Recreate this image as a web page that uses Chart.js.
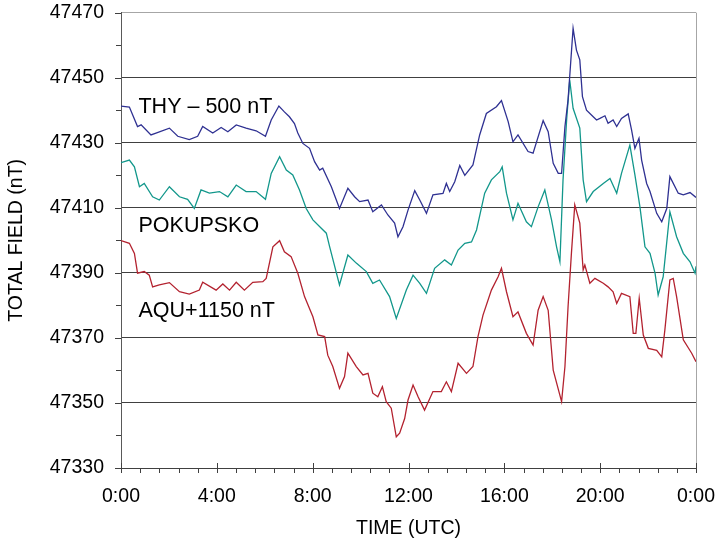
<!DOCTYPE html>
<html lang="en">
<head>
    <meta charset="UTF-8">
    <title>Total field - three stations</title>
    <style>
        body {
            margin: 0;
            background-color: #ffffff;
        }
        canvas {
            display: block;
        }
    </style>
</head>
<body>
    <canvas id="fieldChart" width="719" height="543"></canvas>

    <script src="https://cdn.jsdelivr.net/npm/chart.js"></script>
    <script>
        // Time in hours (UTC) and total field (nT)
        const thyTimes = [0.00, 0.35, 0.69, 0.84, 1.25, 1.46, 2.02, 2.37, 2.85, 3.20, 3.41, 3.83, 4.18, 4.46, 4.81, 5.22, 5.64, 6.03, 6.27, 6.59,
            6.82, 7.03, 7.24, 7.38, 7.59, 7.87, 8.08, 8.29, 8.42, 8.78, 9.12, 9.47, 9.75, 9.96, 10.31, 10.51, 10.87, 11.14, 11.42, 11.56,
            11.77, 11.98, 12.26, 12.47, 12.75, 13.02, 13.44, 13.58, 13.72, 13.93, 14.14, 14.35, 14.69, 14.97, 15.25, 15.67, 15.88, 16.16, 16.36, 16.57,
            16.99, 17.20, 17.62, 17.83, 18.04, 18.25, 18.39, 18.53, 18.66, 18.87, 19.01, 19.15, 19.26, 19.43, 19.71, 19.85, 19.99, 20.20, 20.33, 20.54,
            20.69, 20.89, 21.17, 21.31, 21.45, 21.62, 21.73, 21.94, 22.08, 22.36, 22.57, 22.78, 22.91, 23.26, 23.47, 23.75, 24.00];
        const thyValues = [47441.3, 47441.0, 47435.0, 47435.5, 47432.4, 47433.0, 47434.5, 47432.0, 47431.0, 47432.0, 47435.0, 47433.0, 47434.7, 47433.4, 47435.5, 47434.5, 47433.7, 47432.0, 47437.0, 47441.3,
            47439.5, 47438.0, 47435.9, 47433.0, 47429.8, 47428.3, 47424.2, 47421.6, 47422.2, 47416.5, 47409.8, 47416.0, 47413.4, 47411.9, 47412.4, 47408.8, 47410.9, 47407.8, 47405.3, 47401.1,
            47404.2, 47409.3, 47415.3, 47412.4, 47408.3, 47414.0, 47414.4, 47417.5, 47415.0, 47418.0, 47423.0, 47420.0, 47423.2, 47432.4, 47439.0, 47441.1, 47443.0, 47436.5, 47430.3, 47432.4,
            47427.3, 47426.8, 47436.8, 47433.4, 47423.7, 47420.6, 47420.6, 47435.0, 47443.2, 47465.2, 47458.5, 47455.5, 47444.2, 47440.0, 47438.0, 47437.0, 47437.5, 47438.3, 47436.0, 47437.0,
            47435.0, 47437.5, 47438.9, 47434.0, 47428.3, 47431.4, 47424.7, 47417.5, 47415.0, 47408.3, 47405.7, 47409.8, 47419.6, 47414.5, 47414.0, 47414.7, 47413.2];

        const pokTimes = [0.00, 0.35, 0.56, 0.77, 0.97, 1.32, 1.60, 2.02, 2.44, 2.78, 3.06, 3.34, 3.69, 4.11, 4.46, 4.81, 5.22, 5.64, 6.03, 6.27,
            6.62, 6.90, 7.17, 7.45, 7.73, 8.01, 8.36, 8.57, 8.71, 9.12, 9.47, 9.82, 10.24, 10.51, 10.79, 11.21, 11.49, 11.91, 12.19, 12.47,
            12.75, 13.09, 13.51, 13.79, 14.07, 14.35, 14.63, 14.84, 15.18, 15.46, 15.81, 15.91, 16.09, 16.36, 16.57, 16.92, 17.13, 17.41, 17.69, 17.97,
            18.18, 18.32, 18.45, 18.60, 18.73, 18.87, 19.15, 19.29, 19.43, 19.71, 20.13, 20.41, 20.69, 20.89, 21.24, 21.45, 21.66, 21.87, 22.08, 22.29,
            22.42, 22.63, 22.91, 23.19, 23.47, 23.75, 23.96, 24.00];
        const pokValues = [47423.9, 47424.7, 47422.6, 47416.5, 47417.5, 47413.4, 47412.4, 47416.5, 47413.4, 47412.6, 47409.8, 47415.5, 47414.5, 47415.0, 47413.4, 47417.0, 47415.0, 47415.0, 47412.6, 47420.6,
            47425.7, 47421.6, 47420.1, 47415.5, 47409.8, 47406.3, 47403.7, 47402.2, 47398.0, 47386.3, 47395.5, 47393.0, 47390.4, 47386.8, 47387.8, 47382.7, 47376.0, 47384.7, 47389.3, 47386.8,
            47383.7, 47391.4, 47394.0, 47392.4, 47397.0, 47399.1, 47399.5, 47403.2, 47414.5, 47418.6, 47421.1, 47422.6, 47414.5, 47406.3, 47411.4, 47405.7, 47404.2, 47410.3, 47415.5, 47406.3,
            47398.0, 47393.4, 47418.6, 47437.0, 47449.3, 47440.6, 47434.5, 47418.6, 47411.9, 47415.0, 47417.5, 47419.0, 47414.5, 47420.6, 47429.3, 47420.1, 47410.3, 47398.0, 47396.0, 47389.9,
            47383.2, 47388.8, 47408.8, 47401.1, 47396.0, 47393.4, 47389.9, 47392.0];

        const aquTimes = [0.00, 0.35, 0.56, 0.69, 0.97, 1.18, 1.32, 1.60, 2.02, 2.44, 2.85, 3.27, 3.41, 3.97, 4.25, 4.53, 4.81, 5.15, 5.50, 5.92,
            6.06, 6.34, 6.62, 6.82, 7.10, 7.38, 7.66, 8.01, 8.22, 8.50, 8.63, 8.84, 9.12, 9.33, 9.47, 9.82, 10.10, 10.31, 10.51, 10.72,
            10.91, 11.07, 11.28, 11.49, 11.63, 11.84, 11.98, 12.19, 12.40, 12.67, 13.02, 13.37, 13.58, 13.79, 14.07, 14.42, 14.69, 14.90, 15.11, 15.46,
            15.74, 15.88, 16.09, 16.36, 16.57, 16.92, 17.20, 17.41, 17.62, 17.83, 18.04, 18.39, 18.53, 18.66, 18.80, 18.94, 19.15, 19.29, 19.36, 19.57,
            19.78, 20.13, 20.33, 20.54, 20.69, 20.89, 21.24, 21.38, 21.49, 21.63, 21.80, 22.01, 22.36, 22.57, 22.70, 22.91, 23.05, 23.19, 23.47, 23.82,
            24.00];
        const aquValues = [47399.9, 47399.1, 47396.0, 47389.9, 47390.4, 47389.3, 47385.7, 47386.3, 47387.0, 47384.2, 47383.5, 47384.7, 47387.1, 47384.7, 47386.6, 47384.7, 47387.1, 47384.7, 47387.1, 47387.3,
            47388.3, 47398.0, 47399.9, 47396.5, 47395.0, 47389.9, 47382.7, 47376.5, 47370.9, 47370.4, 47364.7, 47361.2, 47354.5, 47358.1, 47365.3, 47361.2, 47358.6, 47359.1, 47353.0, 47351.9,
            47355.0, 47350.4, 47348.4, 47339.6, 47340.7, 47345.2, 47350.9, 47355.5, 47351.9, 47347.8, 47353.5, 47353.5, 47356.5, 47353.5, 47362.2, 47359.1, 47361.2, 47370.4, 47377.0, 47384.7,
            47388.8, 47391.4, 47384.2, 47376.5, 47378.0, 47371.4, 47367.8, 47378.5, 47382.7, 47378.5, 47360.1, 47350.4, 47361.2, 47379.6, 47396.0, 47410.9, 47405.3, 47390.9, 47392.4, 47386.8,
            47388.3, 47386.8, 47385.7, 47384.2, 47380.6, 47383.7, 47382.7, 47371.4, 47371.4, 47382.2, 47370.9, 47366.8, 47366.2, 47364.2, 47372.4, 47387.8, 47388.3, 47382.7, 47369.4, 47365.3,
            47362.7];

        // Inline series names, anchored in data coordinates (hours, nT)
        const seriesNames = ['THY \u2013 500 nT', 'POKUPSKO', 'AQU+1150 nT'];
        const nameTimes = [0.73, 0.73, 0.73];
        const nameValues = [47439.2, 47402.7, 47376.5];

        const Y_MIN = 47330, Y_MAX = 47470, Y_STEP = 20;
        const X_MIN = 0, X_MAX = 24, X_STEP = 4, X_MINOR = 0.8;

        const FONT = '"Liberation Sans", Arial, sans-serif';

        function toPoints(times, values) {
            return times.map((t, i) => ({ x: t, y: values[i] }));
        }

        // Draws axis tick marks, the light right frame and the series names
        const framePlugin = {
            id: 'framePlugin',
            afterDraw(chart) {
                const { ctx, chartArea: area, scales: { x, y } } = chart;
                ctx.save();

                // right frame line
                ctx.strokeStyle = '#a6a6a6';
                ctx.lineWidth = 1;
                ctx.beginPath();
                ctx.moveTo(Math.round(area.right) + 0.5, area.top);
                ctx.lineTo(Math.round(area.right) + 0.5, area.bottom);
                ctx.stroke();

                ctx.strokeStyle = '#404040';
                ctx.beginPath();
                // y ticks, major and minor, pointing outward
                for (let v = Y_MIN; v <= Y_MAX; v += Y_STEP / 2) {
                    const py = Math.round(y.getPixelForValue(v)) + 0.5;
                    const len = (v - Y_MIN) % Y_STEP === 0 ? 6 : 5;
                    ctx.moveTo(area.left - len, py);
                    ctx.lineTo(area.left, py);
                }
                // x ticks: major cross the axis, minor hang below
                for (let i = 0; i <= Math.round((X_MAX - X_MIN) / X_MINOR); i++) {
                    const px = Math.round(x.getPixelForValue(X_MIN + i * X_MINOR)) + 0.5;
                    ctx.moveTo(px, area.bottom);
                    ctx.lineTo(px, area.bottom + 5);
                }
                for (let h = X_MIN; h <= X_MAX; h += X_STEP) {
                    const px = Math.round(x.getPixelForValue(h)) + 0.5;
                    ctx.moveTo(px, area.bottom - 5);
                    ctx.lineTo(px, area.bottom + 5);
                }
                ctx.stroke();

                // series names
                ctx.fillStyle = '#000000';
                ctx.font = '21.5px ' + FONT;
                ctx.textBaseline = 'alphabetic';
                ctx.textAlign = 'left';
                seriesNames.forEach((name, i) => {
                    ctx.fillText(name, x.getPixelForValue(nameTimes[i]), y.getPixelForValue(nameValues[i]));
                });
                ctx.restore();
            }
        };

        new Chart(document.getElementById('fieldChart'), {
            type: 'line',
            data: {
                datasets: [
                    { label: 'THY', data: toPoints(thyTimes, thyValues), borderColor: '#2f3192' },
                    { label: 'POKUPSKO', data: toPoints(pokTimes, pokValues), borderColor: '#12978b' },
                    { label: 'AQU', data: toPoints(aquTimes, aquValues), borderColor: '#b3222f' }
                ]
            },
            options: {
                responsive: false,
                animation: false,
                parsing: false,
                elements: {
                    point: { radius: 0, hoverRadius: 0 },
                    line: { borderWidth: 1.3, tension: 0 }
                },
                layout: {
                    autoPadding: false,
                    padding: { left: 0, right: 23, top: 12.7, bottom: 0 }
                },
                plugins: {
                    legend: { display: false },
                    tooltip: { enabled: false }
                },
                scales: {
                    x: {
                        type: 'linear',
                        min: X_MIN,
                        max: X_MAX,
                        // fixed axis band; label overhang must not shrink the plot
                        afterFit: scale => {
                            scale.height = 75;
                            scale.paddingLeft = 0;
                            scale.paddingRight = 0;
                        },
                        ticks: {
                            stepSize: X_STEP,
                            padding: 17,
                            maxRotation: 0,
                            color: '#000000',
                            font: { family: FONT, size: 19.5 },
                            callback: v => (v % 24) + ':00'
                        },
                        grid: { drawOnChartArea: false, drawTicks: false },
                        border: { color: '#404040', width: 1 },
                        title: {
                            display: true,
                            text: 'TIME (UTC)',
                            color: '#000000',
                            font: { family: FONT, size: 19.5 },
                            padding: { top: 0, bottom: 3 }
                        }
                    },
                    y: {
                        min: Y_MIN,
                        max: Y_MAX,
                        afterFit: scale => {
                            scale.width = 121;
                            scale.paddingTop = 0;
                            scale.paddingBottom = 0;
                        },
                        ticks: {
                            stepSize: Y_STEP,
                            padding: 17,
                            color: '#000000',
                            font: { family: FONT, size: 19.5 },
                            callback: v => String(v)
                        },
                        grid: {
                            drawTicks: false,
                            color: c => (c.tick && c.tick.value === Y_MAX) ? '#a6a6a6' : '#404040',
                            lineWidth: 1
                        },
                        border: { color: '#595959', width: 1 },
                        title: {
                            display: true,
                            text: 'TOTAL FIELD (nT)',
                            color: '#000000',
                            font: { family: FONT, size: 19.5 },
                            padding: { top: 5, bottom: 0 }
                        }
                    }
                }
            },
            plugins: [framePlugin]
        });
    </script>
</body>
</html>
